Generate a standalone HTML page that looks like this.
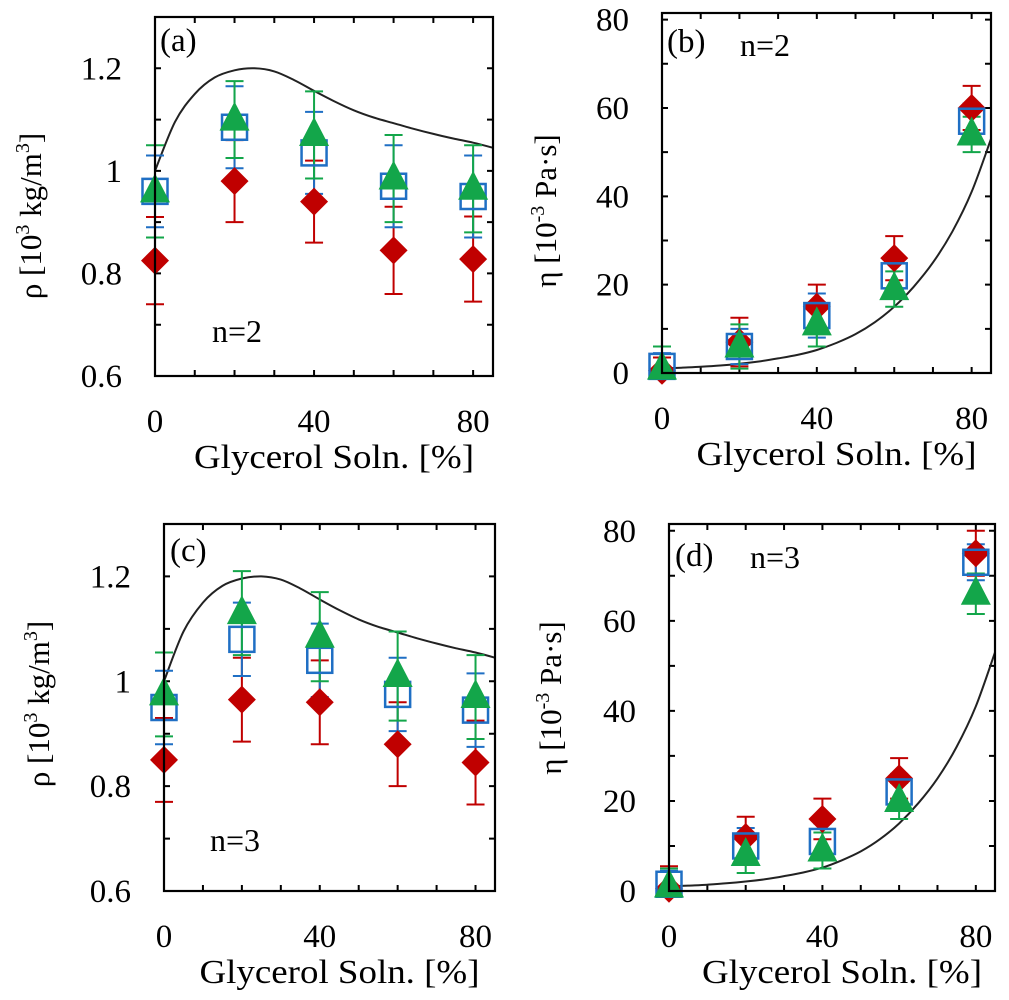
<!DOCTYPE html>
<html><head><meta charset="utf-8"><style>
html,body{margin:0;padding:0;background:#fff;}
svg{display:block;font-family:"Liberation Serif",serif;}
</style></head><body>
<svg id="fig" width="1009" height="1000" viewBox="0 0 1009 1000" xmlns="http://www.w3.org/2000/svg"></svg>
<script>
// ---- data ----
const xCats = [0, 20, 40, 60, 80];
// panel a (density, n=2)
const aRed = [0.825, 0.98, 0.94, 0.845, 0.828];
const aRedErr = [0.085, 0.08, 0.08, 0.085, 0.083];
const aBlue = [0.96, 1.085, 1.035, 0.97, 0.95];
const aBlueErr = [0.07, 0.08, 0.08, 0.08, 0.08];
const aGreen = [0.96, 1.10, 1.07, 0.985, 0.965];
const aGreenErr = [0.09, 0.075, 0.085, 0.085, 0.085];
// panel c (density, n=3)
const cRed = [0.85, 0.965, 0.96, 0.88, 0.845];
const cRedErr = [0.08, 0.08, 0.08, 0.08, 0.08];
const cBlue = [0.95, 1.08, 1.04, 0.975, 0.945];
const cBlueErr = [0.07, 0.07, 0.07, 0.07, 0.07];
const cGreen = [0.975, 1.13, 1.085, 1.01, 0.97];
const cGreenErr = [0.08, 0.08, 0.085, 0.085, 0.08];
// panel b (viscosity, n=2)
const bRed = [0.5, 7, 15, 26, 60];
const bRedErr = [3, 5.5, 5, 5, 5];
const bBlue = [1.5, 6, 13, 22, 57];
const bBlueErr = [3, 4, 5, 4, 4];
const bGreen = [1, 6, 11, 19, 54];
const bGreenErr = [5, 5, 5, 4, 4];
// panel d (viscosity, n=3)
const dRed = [0.5, 12, 16, 25, 75];
const dRedErr = [5, 4.5, 4.5, 4.5, 5];
const dBlue = [1.5, 10, 11, 22, 73];
const dBlueErr = [3, 4, 4, 4, 4];
const dGreen = [1, 8, 9, 20, 66];
const dGreenErr = [4, 4, 4, 4, 4.5];
// model curves
const curveX = [0, 5, 10, 15, 20, 25, 30, 35, 40, 45, 50, 55, 60, 65, 70, 75, 80, 85];
const rhoCurve = [1.0, 1.095, 1.15, 1.182, 1.196, 1.2, 1.194, 1.177, 1.156, 1.136, 1.118, 1.104, 1.093, 1.082, 1.072, 1.063, 1.055, 1.045];
const etaCurve = [1.0, 1.2, 1.4, 1.7, 2.1, 2.6, 3.3, 4.1, 5.2, 6.8, 8.8, 11.5, 15, 19.5, 25, 32, 41, 53];
const rhoTickLabels = ["0.6", "0.8", "1", "1.2"];
const rhoTickVals = [0.6, 0.8, 1.0, 1.2];
const etaTickLabels = ["0", "20", "40", "60", "80"];
const etaTickVals = [0, 20, 40, 60, 80];
const xTickLabels = ["0", "40", "80"];
const xTickVals = [0, 40, 80];

const NS = "http://www.w3.org/2000/svg";
const svg = document.getElementById("fig");
function mk(tag, attrs, parent) {
  const e = document.createElementNS(NS, tag);
  for (const k in attrs) e.setAttribute(k, attrs[k]);
  (parent || svg).appendChild(e);
  return e;
}
const RED = "#c00000", BLUE = "#1f6fc4", GREEN = "#13a64a";
let clipN = 0;

function smoothPath(P) {
  let d = `M${P[0][0].toFixed(1)},${P[0][1].toFixed(1)}`;
  for (let i = 0; i < P.length - 1; i++) {
    const p0 = P[Math.max(i - 1, 0)], p1 = P[i], p2 = P[i + 1], p3 = P[Math.min(i + 2, P.length - 1)];
    const c1x = p1[0] + (p2[0] - p0[0]) / 6, c1y = p1[1] + (p2[1] - p0[1]) / 6;
    const c2x = p2[0] - (p3[0] - p1[0]) / 6, c2y = p2[1] - (p3[1] - p1[1]) / 6;
    d += `C${c1x.toFixed(1)},${c1y.toFixed(1)} ${c2x.toFixed(1)},${c2y.toFixed(1)} ${p2[0].toFixed(1)},${p2[1].toFixed(1)}`;
  }
  return d;
}

function panel(cfg) {
  const g = mk("g", {});
  
  
  const {x0, x1, y0, y1, ymin, ymax} = cfg;
  const X = v => x0 + (v - 0) / 85 * (x1 - x0);
  const Y = v => y1 - (v - ymin) / (ymax - ymin) * (y1 - y0);
  const cid = "clip" + (clipN++);
  const cp = mk("clipPath", {id: cid}, g);
  mk("rect", {x: x0 - 15, y: y0, width: x1 - x0 + 15, height: y1 - y0}, cp);
  for (let v = 0; v <= 80; v += 10) {
    const t = mk("path", {d: `M${X(v)},${y1}v-6M${X(v)},${y0}v6`, stroke: "#000", "stroke-width": 2}, g);
    
    
  }
  for (let i = 0; ; i++) {
    const v = ymin + i * cfg.minor;
    if (v > ymax + 1e-9) break;
    const t = mk("path", {d: `M${x0},${Y(v)}h6M${x1},${Y(v)}h-6`, stroke: "#000", "stroke-width": 2}, g);
    
    
  }
  cfg.yVals.forEach((v, i) => {
    const t = mk("text", {x: x0 - 33, y: Y(v) + 11, "text-anchor": "end", "font-size": 33}, g);
    t.textContent = cfg.yLabels[i];
    
    
  });
  xTickVals.forEach((v, i) => {
    const t = mk("text", {x: X(v), y: y1 + 56, "text-anchor": "middle", "font-size": 33}, g);
    t.textContent = xTickLabels[i];
    
    
  });
  const P = curveX.map((v, i) => [X(v), Y(cfg.curve[i])]);
  const cl = mk("path", {d: smoothPath(P), fill: "none", stroke: "#222", "stroke-width": 2}, g);
  
  
  const series = [
    {vals: cfg.red, err: cfg.redErr, col: RED, shape: "diamond"},
    {vals: cfg.blue, err: cfg.blueErr, col: BLUE, shape: "square"},
    {vals: cfg.green, err: cfg.greenErr, col: GREEN, shape: "triangle"}
  ];
  const eg = mk("g", {"clip-path": `url(#${cid})`}, g);
  series.forEach(s => {
    xCats.forEach((xv, i) => {
      const cx = X(xv);
      const yt = Y(s.vals[i] + s.err[i]), yb = Y(s.vals[i] - s.err[i]);
      const eb = mk("path", {d: `M${cx},${yt}V${yb}M${cx - 9},${yt}h18M${cx - 9},${yb}h18`, stroke: s.col, "stroke-width": 2, fill: "none"}, eg);
      
      
    });
  });
  series.forEach(s => {
    xCats.forEach((xv, i) => {
      const cx = X(xv), cy = Y(s.vals[i]);
      let m;
      if (s.shape === "diamond") m = mk("polygon", {points: `${cx},${cy - 14} ${cx + 14},${cy} ${cx},${cy + 14} ${cx - 14},${cy}`, fill: s.col}, g);
      else if (s.shape === "square") m = mk("rect", {x: cx - 12.5, y: cy - 12.5, width: 25, height: 25, fill: "none", stroke: s.col, "stroke-width": 2.5}, g);
      else m = mk("polygon", {points: `${cx},${cy - 18} ${cx + 15},${cy + 11} ${cx - 15},${cy + 11}`, fill: s.col}, g);
      
      
    });
  });
  const fr = mk("rect", {x: x0, y: y0, width: x1 - x0, height: y1 - y0, fill: "none", stroke: "#000", "stroke-width": 2.2}, g);
  
  
  const xt = mk("text", {x: (x0 + x1) / 2 + 10, y: y1 + 92, "text-anchor": "middle", "font-size": 34, textLength: 280, lengthAdjust: "spacingAndGlyphs"}, g);
  xt.textContent = "Glycerol Soln. [%]";
  
  
  const yt = mk("text", {x: 0, y: 0, "text-anchor": "middle", "font-size": 31, transform: `translate(${cfg.ylx},${cfg.yly}) rotate(-90)`}, g);
  
  
  cfg.ytitle(yt);
  const pl = mk("text", {x: cfg.plx, y: cfg.ply, "font-size": 33}, g);
  pl.textContent = cfg.plabel;
  
  
  const nl = mk("text", {x: cfg.nx, y: cfg.ny, "font-size": 32}, g);
  nl.textContent = cfg.ntext;
  
  
}
function rhoTitle(t) {
  t.innerHTML = 'ρ [10<tspan font-size="20" dy="-12">3</tspan><tspan dy="12"> kg/m</tspan><tspan font-size="20" dy="-12">3</tspan><tspan dy="12">]</tspan>';
}
function etaTitle(t) {
  t.innerHTML = 'η [10<tspan font-size="20" dy="-12">-3</tspan><tspan dy="12"> Pa·s]</tspan>';
}
panel({name: "panel-a", x0: 155, x1: 493, y0: 17, y1: 376, ymin: 0.6, ymax: 1.3, minor: 0.1,
  yVals: rhoTickVals, yLabels: rhoTickLabels, curve: rhoCurve,
  red: aRed, redErr: aRedErr, blue: aBlue, blueErr: aBlueErr, green: aGreen, greenErr: aGreenErr,
  ylx: 41, yly: 216, ytitle: rhoTitle, plabel: "(a)", plx: 160, ply: 51, ntext: "n=2", nx: 212, ny: 342});
panel({name: "panel-b", x0: 662, x1: 991, y0: 13, y1: 373, ymin: 0, ymax: 81.5, minor: 10,
  yVals: etaTickVals, yLabels: etaTickLabels, curve: etaCurve,
  red: bRed, redErr: bRedErr, blue: bBlue, blueErr: bBlueErr, green: bGreen, greenErr: bGreenErr,
  ylx: 556, yly: 211, ytitle: etaTitle, plabel: "(b)", plx: 667, ply: 52, ntext: "n=2", nx: 740, ny: 56});
panel({name: "panel-c", x0: 164, x1: 495, y0: 524, y1: 891, ymin: 0.6, ymax: 1.3, minor: 0.1,
  yVals: rhoTickVals, yLabels: rhoTickLabels, curve: rhoCurve,
  red: cRed, redErr: cRedErr, blue: cBlue, blueErr: cBlueErr, green: cGreen, greenErr: cGreenErr,
  ylx: 49, yly: 704, ytitle: rhoTitle, plabel: "(c)", plx: 170, ply: 561, ntext: "n=3", nx: 210, ny: 851});
panel({name: "panel-d", x0: 669, x1: 995, y0: 524, y1: 891, ymin: 0, ymax: 81.5, minor: 10,
  yVals: etaTickVals, yLabels: etaTickLabels, curve: etaCurve,
  red: dRed, redErr: dRedErr, blue: dBlue, blueErr: dBlueErr, green: dGreen, greenErr: dGreenErr,
  ylx: 561, yly: 698, ytitle: etaTitle, plabel: "(d)", plx: 675, ply: 566, ntext: "n=3", nx: 750, ny: 568});
</script>
</body></html>
